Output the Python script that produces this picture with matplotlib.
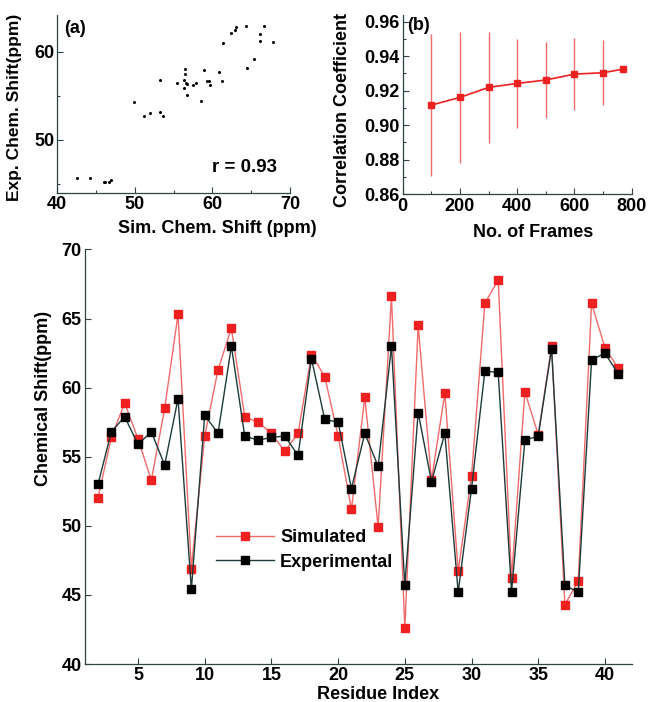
import numpy as np
import matplotlib
matplotlib.use("Agg")
from matplotlib import pyplot as plt
from matplotlib.ticker import MultipleLocator

# chemical shifts per residue (ppm)
residues = list(range(2, 42))
simulated = [52.0, 56.4, 58.9, 56.3, 53.3, 58.5, 65.3, 46.9, 56.5, 61.3,
             64.3, 57.9, 57.5, 56.7, 55.4, 56.7, 62.4, 60.8, 56.5, 51.2,
             59.3, 49.9, 66.6, 42.6, 64.5, 53.3, 59.6, 46.7, 53.6, 66.1,
             67.8, 46.2, 59.7, 56.6, 63.0, 44.3, 46.0, 66.1, 62.9, 61.4]
experimental = [53.0, 56.8, 57.9, 55.9, 56.8, 54.4, 59.2, 45.4, 58.0, 56.7,
                63.0, 56.5, 56.2, 56.4, 56.5, 55.1, 62.1, 57.7, 57.5, 52.7,
                56.7, 54.3, 63.0, 45.7, 58.2, 53.2, 56.7, 45.2, 52.7, 61.2,
                61.1, 45.2, 56.2, 56.5, 62.8, 45.7, 45.2, 62.0, 62.5, 61.0]

# correlation vs. number of frames
frames = [100, 200, 300, 400, 500, 600, 700, 770]
corr_mean = [0.9116, 0.9161, 0.9219, 0.9242, 0.9262, 0.9296, 0.9304, 0.9325]
corr_std = [0.041, 0.038, 0.032, 0.026, 0.022, 0.021, 0.019, 0.0]

r_value = 0.93

plt.rcParams['font.family'] = ['Liberation Sans', 'DejaVu Sans']
plt.rcParams['font.weight'] = 'bold'
plt.rcParams['font.size'] = 13

AX_COL = '#2e4444'
RED = '#ee2020'
RED_LINE = '#f06a6a'
DARK_LINE = '#1c3a3a'
FS = 13


def style_axes(ax):
    for s in ['top', 'right']:
        ax.spines[s].set_visible(False)
    for s in ['left', 'bottom']:
        ax.spines[s].set_color(AX_COL)
        ax.spines[s].set_linewidth(0.9)
    ax.tick_params(which='both', direction='in', color=AX_COL, width=0.8,
                   labelsize=FS, pad=2)
    ax.tick_params(which='major', length=4)
    ax.tick_params(which='minor', length=2)


fig = plt.figure(figsize=(6.48, 7.02), dpi=100)

# (a) scatter
ax_a = fig.add_axes([0.0880, 0.7244, 0.3596, 0.2543])
ax_a.plot(simulated, experimental, 'o', color='black', ms=2.2, mew=0)
ax_a.set_xlim(40, 70)
ax_a.set_ylim(43.9, 64.2)
ax_a.xaxis.set_major_locator(MultipleLocator(10))
ax_a.xaxis.set_minor_locator(MultipleLocator(5))
ax_a.yaxis.set_major_locator(MultipleLocator(10))
ax_a.yaxis.set_minor_locator(MultipleLocator(5))
style_axes(ax_a)
ax_a.set_xlabel('Sim. Chem. Shift (ppm)', fontweight='bold', fontsize=FS)
ax_a.xaxis.set_label_coords(0.687, -0.15)
ax_a.set_ylabel('Exp. Chem. Shift(ppm)', fontweight='bold', fontsize=12.5)
ax_a.yaxis.set_label_coords(-0.15, 0.48)
ax_a.text(0.03, 0.97, '(a)', transform=ax_a.transAxes, ha='left', va='top',
          fontweight='bold', fontsize=FS)
ax_a.text(64.2, 46.8, 'r = %.2f' % r_value, ha='center', va='center',
          fontweight='bold', fontsize=13.5)

# (b) correlation coefficient
ax_b = fig.add_axes([0.6215, 0.7236, 0.3534, 0.2550])
ax_b.errorbar(frames, corr_mean, yerr=corr_std, color=RED, ecolor=RED_LINE,
              elinewidth=1.0, capsize=0, lw=1.2, marker='s', ms=4.5,
              mfc=RED, mec=RED)
ax_b.set_xlim(0, 800)
ax_b.set_ylim(0.86, 0.9639)
ax_b.xaxis.set_major_locator(MultipleLocator(200))
ax_b.xaxis.set_minor_locator(MultipleLocator(100))
ax_b.yaxis.set_major_locator(MultipleLocator(0.02))
ax_b.yaxis.set_minor_locator(MultipleLocator(0.01))
ax_b.yaxis.set_major_formatter(matplotlib.ticker.FormatStrFormatter('%.2f'))
style_axes(ax_b)
ax_b.tick_params(axis='x', pad=3)
ax_b.set_xlabel('No. of Frames', fontweight='bold', fontsize=FS)
ax_b.xaxis.set_label_coords(0.568, -0.165)
ax_b.set_ylabel('Correlation Coefficient', fontweight='bold', fontsize=FS)
ax_b.yaxis.set_label_coords(-0.225, 0.47)
ax_b.text(0.02, 0.99, '(b)', transform=ax_b.transAxes, ha='left', va='top',
          fontweight='bold', fontsize=FS)

# bottom: shift per residue
ax_c = fig.add_axes([0.1306, 0.0541, 0.8441, 0.5905])
ax_c.plot(residues, simulated, color=RED_LINE, lw=1.0, marker='s', ms=6.3,
          mfc=RED, mec=RED, label='Simulated')
ax_c.plot(residues, experimental, color=DARK_LINE, lw=1.0, marker='s',
          ms=6.3, mfc='black', mec='black', label='Experimental')
ax_c.set_xlim(1, 42)
ax_c.set_ylim(40, 70)
ax_c.yaxis.set_major_locator(MultipleLocator(5))
ax_c.set_xticks(range(5, 41, 5))
style_axes(ax_c)
ax_c.set_xlabel('Residue Index', fontweight='bold', fontsize=FS)
ax_c.xaxis.set_label_coords(0.537, -0.052)
ax_c.set_ylabel('Chemical Shift(ppm)', fontweight='bold', fontsize=FS)
ax_c.yaxis.set_label_coords(-0.06, 0.64)
leg = ax_c.legend(loc='upper left', bbox_to_anchor=(0.24, 0.325),
                  frameon=False, borderpad=0, borderaxespad=0,
                  handlelength=3.2, handletextpad=0.35, labelspacing=0.4,
                  prop={'weight': 'bold', 'size': FS})

fig.savefig('out.png', dpi=100)
